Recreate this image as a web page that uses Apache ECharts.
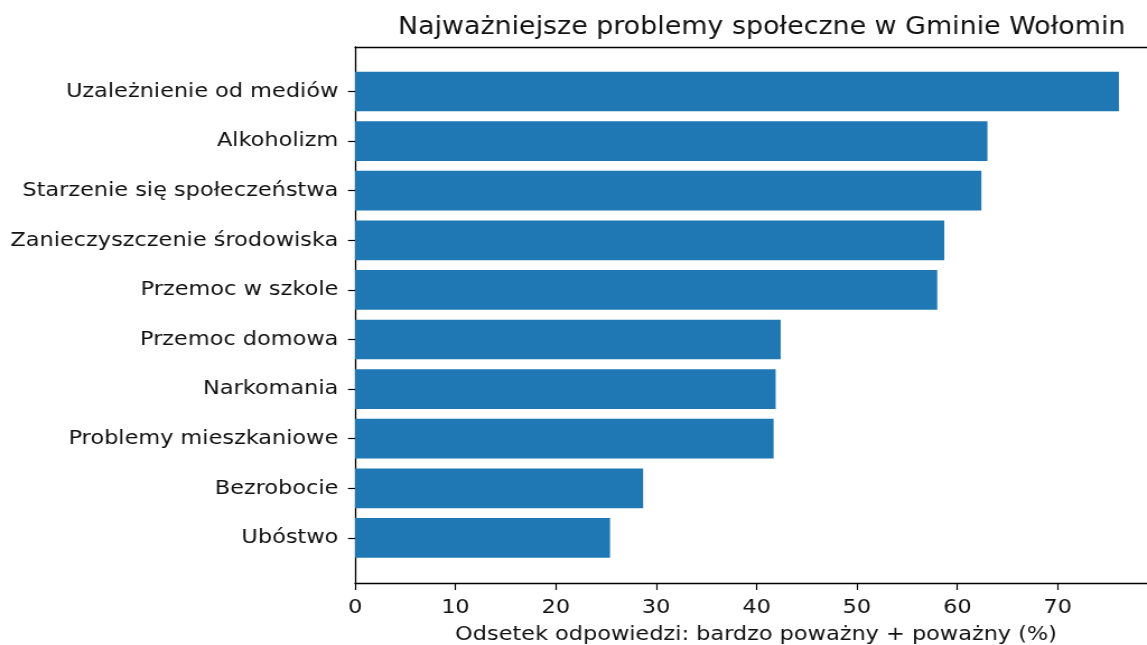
<!DOCTYPE html>
<html>
<head>
<meta charset="utf-8">
<script src="https://cdn.jsdelivr.net/npm/echarts@6/dist/echarts.min.js"></script>
<style>
html,body{margin:0;padding:0;background:#fff;overflow:hidden;}
#wrap{width:1147px;height:645px;overflow:hidden;}
#chart{width:1024px;height:645px;transform:scaleX(1.1201);transform-origin:0 0;}
</style>
</head>
<body>
<div id="wrap"><div id="chart"></div></div>
<script>
const title = 'Najważniejsze problemy społeczne w Gminie Wołomin';
const xAxisName = 'Odsetek odpowiedzi: bardzo poważny + poważny (%)';
const categories = [
  'Uzależnienie od mediów',
  'Alkoholizm',
  'Starzenie się społeczeństwa',
  'Zanieczyszczenie środowiska',
  'Przemoc w szkole',
  'Przemoc domowa',
  'Narkomania',
  'Problemy mieszkaniowe',
  'Bezrobocie',
  'Ubóstwo'
];
const values = [76.1, 63.0, 62.4, 58.7, 58.0, 42.4, 41.9, 41.7, 28.7, 25.4];
const xTicks = [0, 10, 20, 30, 40, 50, 60, 70];

const FONT = 'DejaVu Sans';
const TXT = '#111';
const xMax = 79.9;
const spine = {show: true, onZero: false, lineStyle: {color: '#000', width: 1.3}};

const chart = echarts.init(document.getElementById('chart'), null, {renderer: 'canvas'});
chart.setOption({
  backgroundColor: '#fff',
  animation: false,
  title: {
    text: title,
    left: 675, textAlign: 'center', top: 11,
    textStyle: {fontFamily: FONT, fontSize: 24, fontWeight: 'normal', color: TXT}
  },
  grid: [
    {left: 317, top: 47, width: 716, height: 536, containLabel: false, outerBoundsMode: 'none'},
    {left: 317, top: 66.7, width: 716, height: 496, containLabel: false, outerBoundsMode: 'none'}
  ],
  xAxis: [
    {
      gridIndex: 0, type: 'value', min: 0, max: xMax,
      position: 'bottom',
      axisLine: spine,
      axisTick: {show: true, inside: false, length: 7, customValues: xTicks,
                 lineStyle: {color: '#000', width: 1.2}},
      axisLabel: {show: true, margin: 15, fontFamily: FONT, fontSize: 20, color: TXT,
                  customValues: xTicks},
      splitLine: {show: false},
      name: xAxisName, nameLocation: 'middle', nameGap: 42,
      nameTextStyle: {fontFamily: FONT, fontSize: 20, color: TXT}
    },
    {
      gridIndex: 0, type: 'value', min: 0, max: xMax, position: 'top',
      axisLine: spine, axisTick: {show: false}, axisLabel: {show: false}, splitLine: {show: false}
    },
    {
      gridIndex: 1, type: 'value', min: 0, max: xMax, show: false, splitLine: {show: false}
    }
  ],
  yAxis: [
    {
      gridIndex: 0, type: 'value', min: 0, max: 1, position: 'left',
      axisLine: spine, axisTick: {show: false}, axisLabel: {show: false}, splitLine: {show: false}
    },
    {
      gridIndex: 0, type: 'value', min: 0, max: 1, position: 'right',
      axisLine: spine, axisTick: {show: false}, axisLabel: {show: false}, splitLine: {show: false}
    },
    {
      gridIndex: 1, type: 'category', data: categories, inverse: true,
      boundaryGap: true,
      axisLine: {show: false, onZero: false},
      axisTick: {show: true, alignWithLabel: true, inside: false, length: 6.3,
                 lineStyle: {color: '#000', width: 1.2}},
      axisLabel: {margin: 15, fontFamily: FONT, fontSize: 20, color: TXT},
      splitLine: {show: false}
    }
  ],
  series: [
    {
      type: 'bar', xAxisIndex: 2, yAxisIndex: 2,
      data: values, barWidth: '80%',
      itemStyle: {color: '#1f77b4'},
      silent: true
    }
  ]
});
</script>
</body>
</html>
